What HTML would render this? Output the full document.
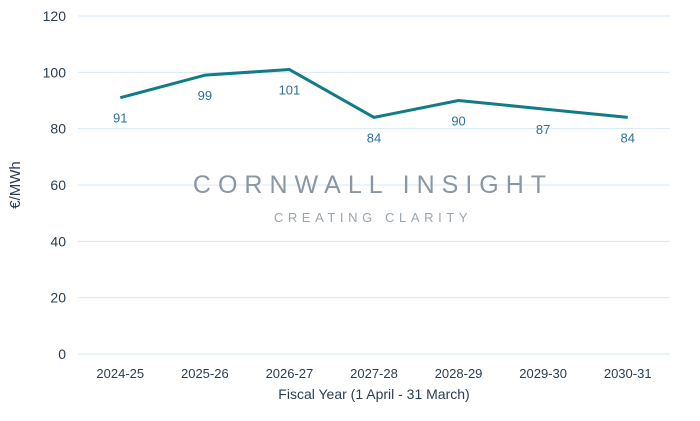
<!DOCTYPE html>
<html><head><meta charset="utf-8"><style>
body{margin:0;background:#fff;}
svg{display:block;font-family:"Liberation Sans",sans-serif;}
</style></head><body>
<svg id="chart" width="700" height="421">
<g id="grid"></g>
<g id="yticks"></g>
<g id="xticks"></g>
<text x="20" y="185" transform="rotate(-90 20 185)" text-anchor="middle" font-size="15" fill="#2a3d50">€/MWh</text>
<text x="374" y="399" text-anchor="middle" font-size="14" fill="#2a3d50">Fiscal Year (1 April - 31 March)</text>
<text x="373" y="193" text-anchor="middle" font-size="25" letter-spacing="7" fill="#8a97a3">CORNWALL INSIGHT</text>
<text x="373" y="222" text-anchor="middle" font-size="13" letter-spacing="4.6" fill="#9aa5ae">CREATING CLARITY</text>
<g id="series"></g>
</svg>
<script>
const categories=["2024-25","2025-26","2026-27","2027-28","2028-29","2029-30","2030-31"];
const values=[91,99,101,84,90,87,84];
const yTicks=[0,20,40,60,80,100,120];
const ns="http://www.w3.org/2000/svg";
const x0=78,x1=670,y0=354,y1=16,yMax=120;
const bw=(x1-x0)/categories.length;
const X=i=>x0+bw*(i+0.5);
const Y=v=>y0-(v/yMax)*(y0-y1);
function mk(t,a,p){const e=document.createElementNS(ns,t);for(const k in a)e.setAttribute(k,a[k]);p.appendChild(e);return e;}
const grid=document.getElementById('grid'),yt=document.getElementById('yticks'),xt=document.getElementById('xticks'),ser=document.getElementById('series');
yTicks.forEach(v=>{
 const l=mk('line',{x1:x0,x2:x1,y1:Y(v),y2:Y(v),stroke:'#d6e9f5','stroke-width':1},grid);
 
 
 const t=mk('text',{x:66,y:Y(v)+5,'text-anchor':'end','font-size':14,fill:'#2a3d50'},yt);
 t.textContent=v;
 
 
});
categories.forEach((c,i)=>{
 const t=mk('text',{x:X(i),y:378,'text-anchor':'middle','font-size':13,fill:'#2a3d50'},xt);
 t.textContent=c;
 
 
});
const pl=mk('polyline',{points:values.map((v,i)=>X(i)+','+Y(v)).join(' '),fill:'none',stroke:'#127c86','stroke-width':3,'stroke-linejoin':'round'},ser);


values.forEach((v,i)=>{
 const t=mk('text',{x:X(i),y:Y(v)+25,'text-anchor':'middle','font-size':13,fill:'#2e6f9e'},ser);
 t.textContent=v;
 
 
});
</script>
</body></html>
